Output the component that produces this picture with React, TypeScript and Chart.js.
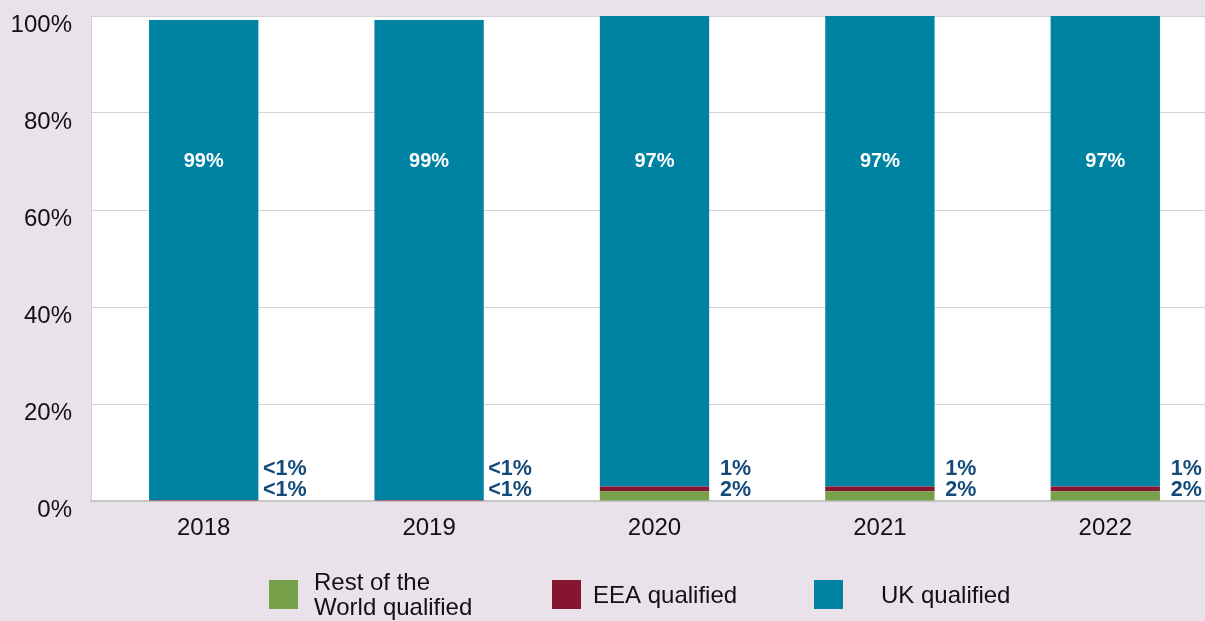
import { useEffect, useRef } from 'react';
import { Chart, registerables } from 'chart.js';

Chart.register(...registerables);

const categories = ['2018', '2019', '2020', '2021', '2022'];
const restOfWorld = [0.1, 0.1, 2, 2, 2];
const eea = [0.1, 0.1, 1, 1, 1];
const uk = [99, 99, 97, 97, 97];
const ukLabels = ['99%', '99%', '97%', '97%', '97%'];
const eeaLabels = ['<1%', '<1%', '1%', '1%', '1%'];
const rowLabels = ['<1%', '<1%', '2%', '2%', '2%'];
const seriesNames = ['Rest of the World qualified', 'EEA qualified', 'UK qualified'];
const legendLines = [['Rest of the', 'World qualified'], ['EEA qualified'], ['UK qualified']];

const GREEN = '#77a04b';
const MAROON = '#86152f';
const TEAL = '#0082a2';
const BG = '#e9e2ea';
const LABEL_BLUE = '#134a7a';
const FONT = '"Liberation Sans", Arial, Helvetica, sans-serif';

const decorPlugin = {
  id: 'decor',
  beforeDraw(chart: any) {
    const { ctx, chartArea, width, height } = chart;
    ctx.save();
    ctx.fillStyle = BG;
    ctx.fillRect(0, 0, width, height);
    ctx.fillStyle = '#ffffff';
    ctx.fillRect(chartArea.left, chartArea.top, chartArea.right - chartArea.left, chartArea.bottom - chartArea.top);
    ctx.restore();
  },
  afterDraw(chart: any) {
    const { ctx, chartArea } = chart;
    const meta = chart.getDatasetMeta(2);
    ctx.save();
    ctx.textAlign = 'center';
    ctx.textBaseline = 'middle';
    meta.data.forEach((bar: any, i: number) => {
      ctx.fillStyle = '#ffffff';
      ctx.font = `bold 20px ${FONT}`;
      ctx.fillText(ukLabels[i], bar.x, chartArea.top + 145);
      ctx.fillStyle = LABEL_BLUE;
      ctx.font = `bold 21.5px ${FONT}`;
      ctx.fillText(eeaLabels[i], bar.x + 81, chartArea.bottom - 32);
      ctx.fillText(rowLabels[i], bar.x + 81, chartArea.bottom - 11);
    });
    // legend
    const colors = [GREEN, MAROON, TEAL];
    const boxX = [269, 552, 814];
    const textX = [314, 593, 881];
    ctx.textAlign = 'left';
    ctx.font = `24px ${FONT}`;
    colors.forEach((c, i) => {
      ctx.fillStyle = c;
      ctx.fillRect(boxX[i], 580, 29, 29);
      ctx.fillStyle = '#111111';
      const lines = legendLines[i];
      if (lines.length === 1) {
        ctx.fillText(lines[0], textX[i], 596);
      } else {
        lines.forEach((l, k) => ctx.fillText(l, textX[i], 583 + k * 25));
      }
    });
    ctx.restore();
  },
};

export default function App() {
  const canvasRef = useRef<HTMLCanvasElement | null>(null);

  useEffect(() => {
    document.body.style.margin = '0';
    document.body.style.background = BG;
    const chart = new Chart(canvasRef.current as HTMLCanvasElement, {
      type: 'bar',
      data: {
        labels: categories,
        datasets: [
          { label: seriesNames[0], data: restOfWorld, backgroundColor: GREEN },
          { label: seriesNames[1], data: eea, backgroundColor: MAROON },
          { label: seriesNames[2], data: uk, backgroundColor: TEAL },
        ],
      },
      options: {
        animation: false,
        responsive: true,
        maintainAspectRatio: false,
        layout: { padding: { top: 16, left: 0, right: 0, bottom: 0 } },
        datasets: { bar: { barPercentage: 0.485, categoryPercentage: 1 } } as any,
        plugins: {
          legend: { display: false },
          tooltip: { enabled: false },
        },
        scales: {
          x: {
            stacked: true,
            grid: { display: false, drawTicks: false },
            border: { display: true, color: '#c6c6c6', width: 2 },
            ticks: { color: '#111111', font: { family: FONT, size: 24 }, padding: 13 },
            afterFit: (s: any) => { s.height = 120; s.paddingLeft = 0; s.paddingRight = 0; },
          },
          y: {
            stacked: true,
            min: 0,
            max: 100,
            grid: { color: '#d2d2d2', lineWidth: 1, drawTicks: false },
            border: { display: true, color: '#cfcfcf', width: 1 },
            ticks: {
              stepSize: 20,
              color: '#111111',
              font: { family: FONT, size: 24 },
              padding: 19,
              labelOffset: 9,
              callback: (v: any) => `${v}%`,
            },
            afterFit: (s: any) => { s.width = 91; s.paddingTop = 0; s.paddingBottom = 0; },
          },
        },
      },
      plugins: [decorPlugin],
    });
    return () => chart.destroy();
  }, []);

  return (
    <div style={{ position: 'fixed', left: 0, top: 0, width: 1205, height: 621, overflow: 'hidden', background: BG }}>
      <div style={{ position: 'relative', width: 1218, height: 621 }}>
        <canvas ref={canvasRef} />
      </div>
    </div>
  );
}
